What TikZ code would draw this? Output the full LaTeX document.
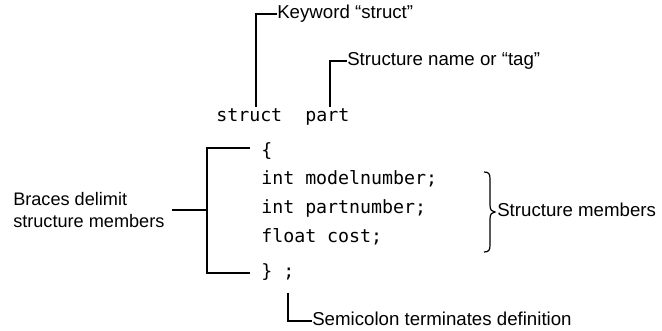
\documentclass[tikz,border=0pt]{standalone}
\usepackage{fontspec}
\setmainfont{Liberation Sans}
\setmonofont{DejaVu Sans Mono}
\begin{document}
\begin{tikzpicture}[x=0.75pt,y=-0.75pt,
  lbl/.style={inner sep=0pt,anchor=west,text height=0.7em,text depth=0pt,font=\fontsize{14}{17}\selectfont},
  code/.style={inner sep=0pt,anchor=base west,font=\fontsize{13.7}{16}\selectfont\ttfamily},
  lead/.style={line width=0.9pt},
  heavy/.style={line width=2pt}]
\useasboundingbox (0,0) rectangle (662,331);
% code
\node[code] (struct) at (216,122) {struct};
\node[code] (part) at (305,122) {part};
\node[code] (open) at (261,157) {\{};
\node[code] (l1) at (261,185) {int modelnumber;};
\node[code] (l2) at (261,214) {int partnumber;};
\node[code] (l3) at (261,243) {float cost;};
\node[code] (close) at (261,278) {\} ;};
% labels
\node[lbl] (kw) at (277,14) {Keyword “struct”};
\node[lbl] (tag) at (347,61) {Structure name or “tag”};
\node[lbl] (mem) at (497,212) {Structure members};
\node[lbl] (semi) at (312,321) {Semicolon terminates definition};
\node[inner sep=0pt,anchor=base west,align=left,font=\fontsize{13.6}{16.5}\selectfont] (bd) at (13,228) {Braces delimit\\structure members};
% connectors
\coordinate (kwfoot) at (256,107);
\coordinate (tagfoot) at (330,107);
\coordinate (semitop) at (288,293);
\draw[lead] (kwfoot) |- (kw.west);
\draw[lead] (tagfoot) |- (tag.west);
\draw[lead] (semitop) |- (semi.west);
\coordinate (brtop) at (250,148);
\coordinate (brbot) at (250,273);
\coordinate (brmid) at (207,210);
\coordinate (bdend) at (172,210);
\draw[lead] (brtop) -- (207,148) -- (207,273) -- (brbot);
\draw[heavy] (bdend) -- (brmid);
% right brace
\draw[lead] (484,172) .. controls (489,172) and (490,174) .. (490,179) -- (490,205)
  .. controls (490,210) and (492,212) .. (495,212)
  .. controls (492,212) and (490,214) .. (490,219) -- (490,245)
  .. controls (490,250) and (489,252) .. (484,252);
\end{tikzpicture}
\end{document}
